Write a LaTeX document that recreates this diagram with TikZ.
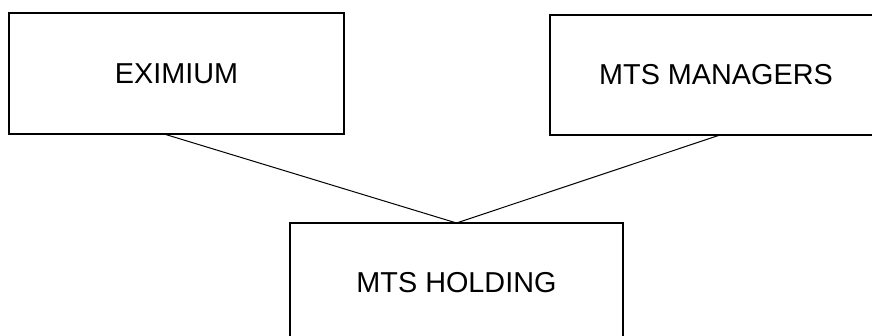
\documentclass[tikz,border=0pt]{standalone}
\usepackage{fontspec}
\setmainfont{Liberation Sans}
\usepackage{tikz}
\usetikzlibrary{positioning}

\begin{document}
\begin{tikzpicture}[x=1pt, y=-1pt, every node/.style={font=\fontsize{28.8}{34}\selectfont},
  entity/.style={draw, rectangle, line width=2pt, inner sep=0pt, outer sep=0pt}]
\useasboundingbox (0,0) rectangle (872,336);
\begin{scope}
\clip (0,0) rectangle (872,336);
\node[entity, minimum width=335pt, minimum height=121pt] (eximium) at (176.5,73.5) {EXIMIUM};
\node[entity, minimum width=332pt, minimum height=120pt] (managers) at (716,75) {MTS MANAGERS};
\node[entity, minimum width=333pt, minimum height=119pt] (holding) at (456.5,282.5) {MTS HOLDING};
\draw[line width=1pt] ([xshift=-12.5pt]eximium.south) -- (holding.north);
\draw[line width=1pt] ([xshift=4pt]managers.south) -- (holding.north);
\end{scope}
\end{tikzpicture}
\end{document}
